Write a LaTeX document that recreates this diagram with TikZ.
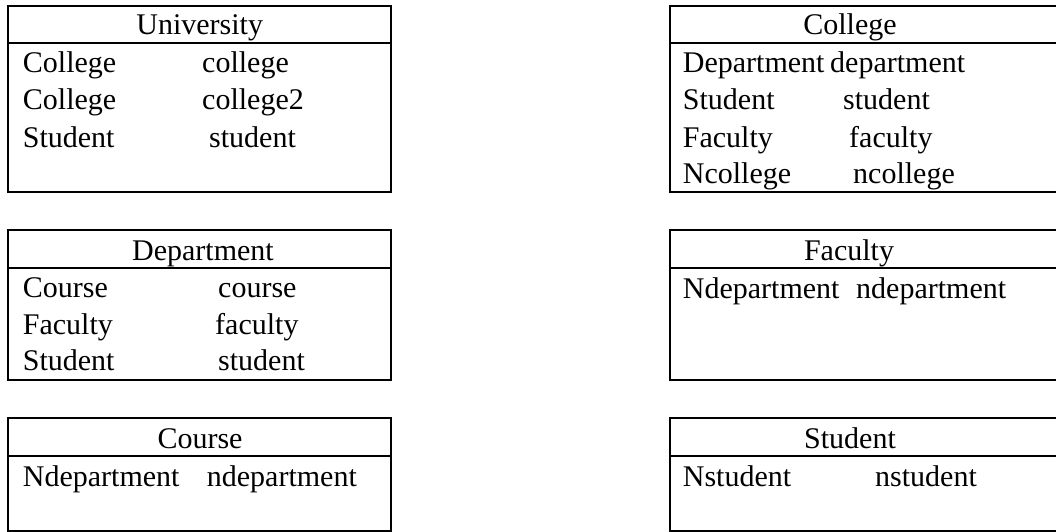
\documentclass[tikz,border=0pt]{standalone}
\usepackage{fontspec}
\setmainfont{Liberation Serif}
\begin{document}
\begin{tikzpicture}[x=1pt,y=-1pt,
  box/.style={draw, line width=2pt, inner sep=0pt, outer sep=0pt, anchor=north west},
  txt/.style={anchor=base west, inner sep=0pt, font=\fontsize{30}{36}\selectfont},
  ttl/.style={anchor=base, inner sep=0pt, font=\fontsize{30}{36}\selectfont},
  divider/.style={line width=2pt}]
\useasboundingbox (0,0) rectangle (1056,532);
\clip (0,0) rectangle (1056,532);
% left column boxes
\node[box, minimum width=382.7pt, minimum height=185.7pt] (univ) at (8.3,6) {};
\node[box, minimum width=382.7pt, minimum height=149.7pt] (dept) at (8.3,230.3) {};
\node[box, minimum width=382.7pt, minimum height=113pt] (course) at (8.3,418) {};
% right column boxes
\node[box, minimum width=420pt, minimum height=185.7pt] (coll) at (670,6) {};
\node[box, minimum width=420pt, minimum height=149.7pt] (fac) at (670,230.3) {};
\node[box, minimum width=420pt, minimum height=113pt] (stud) at (670,418) {};
% dividers
\foreach \b in {univ,coll}{\draw[divider] ([yshift=-37pt]\b.north west) -- ([yshift=-37pt]\b.north east);}
\foreach \b in {dept,fac}{\draw[divider] ([yshift=-37.7pt]\b.north west) -- ([yshift=-37.7pt]\b.north east);}
\foreach \b in {course,stud}{\draw[divider] ([yshift=-38pt]\b.north west) -- ([yshift=-38pt]\b.north east);}
% University
\node[ttl] (t1) at (199.7,35) {University};
\node[txt] (u1a) at (22.7,73) {College};
\node[txt] (u1b) at (202,73) {college};
\node[txt] (u2a) at (22.7,110) {College};
\node[txt] (u2b) at (202,110) {college2};
\node[txt] (u3a) at (22.7,147) {Student};
\node[txt] (u3b) at (209,147) {student};
% College
\node[ttl] (t2) at (850,35) {College};
\node[txt] (c1a) at (682.7,73) {Department};
\node[txt] (c1b) at (830,73) {department};
\node[txt] (c2a) at (682.7,110) {Student};
\node[txt] (c2b) at (843,110) {student};
\node[txt] (c3a) at (682.7,147) {Faculty};
\node[txt] (c3b) at (849,147) {faculty};
\node[txt] (c4a) at (682.7,183.5) {Ncollege};
\node[txt] (c4b) at (853,183.5) {ncollege};
% Department
\node[ttl] (t3) at (203,260) {Department};
\node[txt] (d1a) at (22.7,297.5) {Course};
\node[txt] (d1b) at (218,297.5) {course};
\node[txt] (d2a) at (22.7,334) {Faculty};
\node[txt] (d2b) at (215,334) {faculty};
\node[txt] (d3a) at (22.7,370.5) {Student};
\node[txt] (d3b) at (218,370.5) {student};
% Faculty
\node[ttl] (t4) at (849,260) {Faculty};
\node[txt] (f1a) at (682.7,298) {Ndepartment};
\node[txt] (f1b) at (856,298) {ndepartment};
% Course
\node[ttl] (t5) at (200,448) {Course};
\node[txt] (o1a) at (22.7,486) {Ndepartment};
\node[txt] (o1b) at (206.7,486) {ndepartment};
% Student
\node[ttl] (t6) at (850,448) {Student};
\node[txt] (s1a) at (682.7,486) {Nstudent};
\node[txt] (s1b) at (875,486) {nstudent};
\end{tikzpicture}
\end{document}
